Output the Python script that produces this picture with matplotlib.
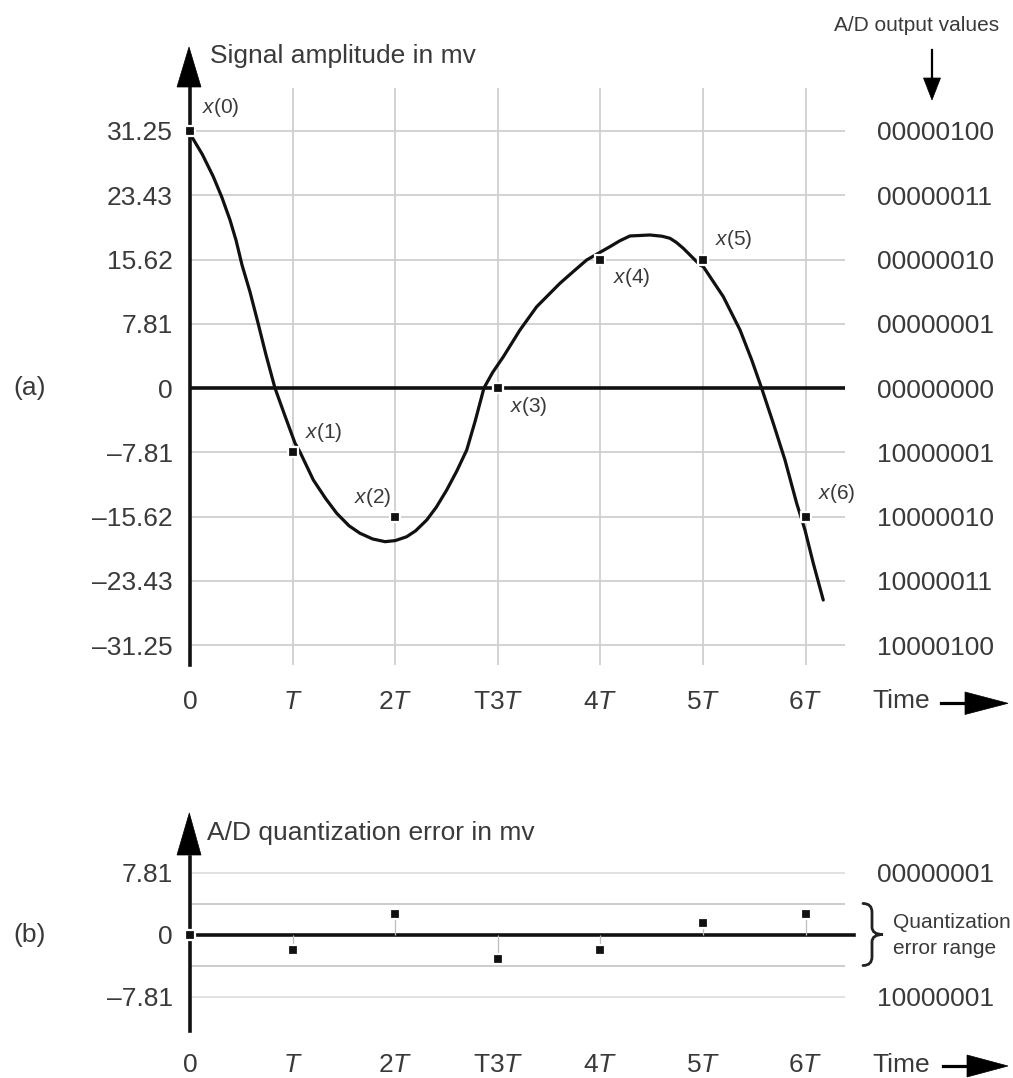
import matplotlib
matplotlib.use("Agg")
import matplotlib.pyplot as plt
from matplotlib.patches import Polygon, PathPatch
from matplotlib.path import Path

plt.rcParams['font.family'] = ['Liberation Sans', 'DejaVu Sans']
plt.rcParams['mathtext.fontset'] = 'custom'
plt.rcParams['mathtext.rm'] = 'Liberation Sans'
plt.rcParams['mathtext.it'] = 'Liberation Sans:italic'

# ---------------- data ----------------
signal_t = [0.0, 0.017, 0.12, 0.227, 0.31, 0.390, 0.45, 0.507, 0.585, 0.663,
            0.741, 0.828, 0.926, 1.023, 1.072, 1.202, 1.320, 1.430, 1.550, 1.657,
            1.780, 1.901, 2.000, 2.112, 2.200, 2.307, 2.400, 2.502, 2.600, 2.697,
            2.780, 2.865, 2.950, 3.054, 3.216, 3.379, 3.606, 3.740, 3.866, 4.093,
            4.190, 4.288, 4.483, 4.600, 4.678, 4.740, 4.808, 4.971, 5.003, 5.198,
            5.361, 5.475, 5.572, 5.685, 5.799, 5.913, 5.994, 6.075, 6.172]
signal_mv = [31.25, 30.55, 28.40, 25.69, 23.20, 20.42, 17.90, 14.95, 11.67, 7.90,
             4.01, 0.00, -3.40, -6.69, -7.78, -11.18, -13.40, -15.23, -16.75, -17.66,
             -18.35, -18.68, -18.55, -18.08, -17.35, -16.05, -14.50, -12.40, -10.10, -7.54,
             -4.00, 0.00, 1.90, 3.80, 7.05, 9.88, 12.73, 14.20, 15.56, 17.18,
             17.90, 18.48, 18.60, 18.45, 18.20, 17.70, 16.98, 14.95, 14.75, 11.10,
             7.05, 3.40, -0.04, -4.29, -8.75, -14.02, -17.26, -21.31, -25.77]

sample_n = [0, 1, 2, 3, 4, 5, 6]
sample_mv = [31.25, -7.81, -15.62, 0.0, 15.62, 15.62, -15.62]
sample_labels = ['$x$(0)', '$x$(1)', '$x$(2)', '$x$(3)', '$x$(4)', '$x$(5)', '$x$(6)']
error_mv = [0.0, -1.95, 2.58, -3.12, -1.95, 1.49, 2.58]

amp_ticks = [31.25, 23.43, 15.62, 7.81, 0, -7.81, -15.62, -23.43, -31.25]
amp_tick_labels = ['31.25', '23.43', '15.62', '7.81', '0',
                   '\u20137.81', '\u201315.62', '\u201323.43', '\u201331.25']
ad_codes = ['00000100', '00000011', '00000010', '00000001', '00000000',
            '10000001', '10000010', '10000011', '10000100']
err_ticks = [7.81, 0, -7.81]
err_tick_labels = ['7.81', '0', '\u20137.81']
err_codes = ['00000001', '', '10000001']
time_labels = ['0', '$T$', '2$T$', 'T3$T$', '4$T$', '5$T$', '6$T$']
q_half = 3.905

# ---------------- layout helpers ----------------
W, H = 1013, 1078
fig = plt.figure(figsize=(W / 100, H / 100), dpi=100)
TXT = '#3a3a3a'
GRID = '#cfcfcf'


def fx(px):
    return px / W


def fy(py):
    return 1 - py / H


def ftext(px, py, s, **kw):
    kw.setdefault('color', TXT)
    fig.text(fx(px), fy(py), s, **kw)


def fpoly(pts, **kw):
    fig.patches.append(Polygon([(fx(a), fy(b)) for a, b in pts], closed=True,
                               transform=fig.transFigure, facecolor='black',
                               edgecolor='black', lw=0.5, **kw))


def fline(p0, p1, lw=2.2):
    fig.add_artist(plt.Line2D([fx(p0[0]), fx(p1[0])], [fy(p0[1]), fy(p1[1])],
                              transform=fig.transFigure, color='black', lw=lw))


XL, XR = 190, 845
T_PX = 102.6
xmax = (XR - XL) / T_PX

# ---------------- top panel ----------------
top_y0, top_y1, zero_top = 88, 665, 388.0
mv_px = 7.81 / 64.25
ax = fig.add_axes([fx(XL), fy(top_y1), (XR - XL) / W, (top_y1 - top_y0) / H])
ax.set_xlim(0, xmax)
ax.set_ylim((zero_top - top_y1) * mv_px, (zero_top - top_y0) * mv_px)
for s in ['top', 'right', 'bottom']:
    ax.spines[s].set_visible(False)
ax.spines['left'].set_linewidth(2.6)
ax.spines['left'].set_color('#111111')
ax.set_axisbelow(True)
ax.grid(True, color=GRID, lw=1.3)
ax.set_yticks(amp_ticks, labels=amp_tick_labels)
ax.set_xticks(sample_n, labels=time_labels)
ax.tick_params(axis='y', length=0, pad=12.6, labelsize=19, labelcolor=TXT)
ax.tick_params(axis='x', length=0, pad=32, labelsize=19, labelcolor=TXT)
for lbl in ax.get_xticklabels():
    lbl.set_verticalalignment('baseline')
ax.axhline(0, color='#111111', lw=2.6, zorder=2)
ax.plot(signal_t, signal_mv, color='#111111', lw=2.3, zorder=3,
        solid_joinstyle='round', solid_capstyle='round')
ax.plot(sample_n, sample_mv, ls='none', marker='s', ms=6.8, mfc='#111111',
        mec='white', mew=1.6, zorder=5, clip_on=False)
offsets = [(12, 23, 'left'), (12, 20, 'left'), (-4, 19, 'right'), (12, -19, 'left'),
           (13, -18, 'left'), (12, 20, 'left'), (12, 23, 'left')]
for n, v, lab, (dx, dy, ha) in zip(sample_n, sample_mv, sample_labels, offsets):
    ax.annotate(lab, xy=(n, v), xytext=(dx, dy), textcoords='offset pixels',
                ha=ha, va='center', fontsize=15, color=TXT, annotation_clip=False)
ytr = ax.get_yaxis_transform()
for v, code in zip(amp_ticks, ad_codes):
    ax.text((877 - XL) / (XR - XL), v, code, transform=ytr, ha='left',
            va='center_baseline', fontsize=19, color=TXT)

# ---------------- bottom panel ----------------
bot_y0, bot_y1, zero_bot = 857, 1031, 934.5
e_px = 7.81 / 62.0
ax2 = fig.add_axes([fx(XL), fy(bot_y1), (XR - XL) / W, (bot_y1 - bot_y0) / H])
ax2.set_xlim(0, xmax)
ax2.set_ylim((zero_bot - bot_y1) * e_px, (zero_bot - bot_y0) * e_px)
for s in ['top', 'right', 'bottom']:
    ax2.spines[s].set_visible(False)
ax2.spines['left'].set_linewidth(2.6)
ax2.spines['left'].set_color('#111111')
ax2.set_axisbelow(True)
ax2.set_yticks(err_ticks, labels=err_tick_labels)
ax2.set_xticks(sample_n, labels=time_labels)
ax2.grid(True, axis='y', color='#dedede', lw=1.3)
ax2.tick_params(axis='y', length=0, pad=12.6, labelsize=19, labelcolor=TXT)
ax2.tick_params(axis='x', length=0, pad=29.5, labelsize=19, labelcolor=TXT)
for lbl in ax2.get_xticklabels():
    lbl.set_verticalalignment('baseline')
for q in (q_half, -q_half):
    ax2.axhline(q, color='#c8c8c8', lw=1.3, zorder=1)
ax2.plot([0, xmax + 9 / T_PX], [0, 0], color='#111111', lw=2.6, zorder=2,
         clip_on=False)
ax2.vlines(sample_n, 0, error_mv, color='#bdbdbd', lw=0.9, zorder=2)
ax2.plot(sample_n, error_mv, ls='none', marker='s', ms=6.8, mfc='#111111',
         mec='white', mew=1.6, zorder=5, clip_on=False)
ytr2 = ax2.get_yaxis_transform()
for v, code in zip(err_ticks, err_codes):
    if code:
        ax2.text((877 - XL) / (XR - XL), v, code, transform=ytr2, ha='left',
                 va='center_baseline', fontsize=19, color=TXT)

# brace for the quantization error range
xl = (863 - XL) / T_PX
w = 20 / T_PX
xm = xl + 0.45 * w
xt = xl + w
h = 2 * q_half
verts = [(xl, q_half), (xm, q_half), (xm, q_half - 0.14 * h),
         (xm, 0.12 * h), (xm, 0), (xt, 0),
         (xm, 0), (xm, -0.12 * h),
         (xm, -q_half + 0.14 * h), (xm, -q_half), (xl, -q_half)]
codes = [Path.MOVETO, Path.CURVE3, Path.CURVE3,
         Path.LINETO, Path.CURVE3, Path.CURVE3,
         Path.CURVE3, Path.CURVE3,
         Path.LINETO, Path.CURVE3, Path.CURVE3]
ax2.add_patch(PathPatch(Path(verts, codes), facecolor='none', edgecolor='#222222',
                        lw=2.0, clip_on=False, capstyle='round'))

# ---------------- decorations ----------------
# y-axis arrow heads
fpoly([(177, 87), (201, 87), (189, 47)])
fpoly([(177, 855), (201, 855), (189.3, 813)])
# time arrows
fline((941, 703.3), (970, 703.3), lw=2.3)
fpoly([(965, 692), (1008, 703.3), (965, 714.5)])
fline((943, 1066), (970, 1066), lw=2.3)
fpoly([(967, 1055), (1008, 1066), (967, 1077)])
# A/D output arrow
fline((932, 50), (932, 82), lw=1.6)
fpoly([(923.5, 78), (940.5, 78), (932, 100)])

ftext(210, 63.3, 'Signal amplitude in mv', fontsize=19, ha='left', va='baseline')
ftext(207, 840, 'A/D quantization error in mv', fontsize=19, ha='left', va='baseline')
ftext(917, 31, 'A/D output values', fontsize=15, ha='center', va='baseline')
ftext(872, 708.3, 'Time', fontsize=19, ha='left', va='baseline')
ftext(872, 1072.5, 'Time', fontsize=19, ha='left', va='baseline')
ftext(13, 388, '(a)', fontsize=19, ha='left', va='center')
ftext(13, 935, '(b)', fontsize=19, ha='left', va='center')
ftext(892.5, 928.5, 'Quantization', fontsize=15, ha='left', va='baseline')
ftext(892.5, 953.5, 'error range', fontsize=15, ha='left', va='baseline')

fig.savefig('out.png', dpi=100, facecolor='white')
